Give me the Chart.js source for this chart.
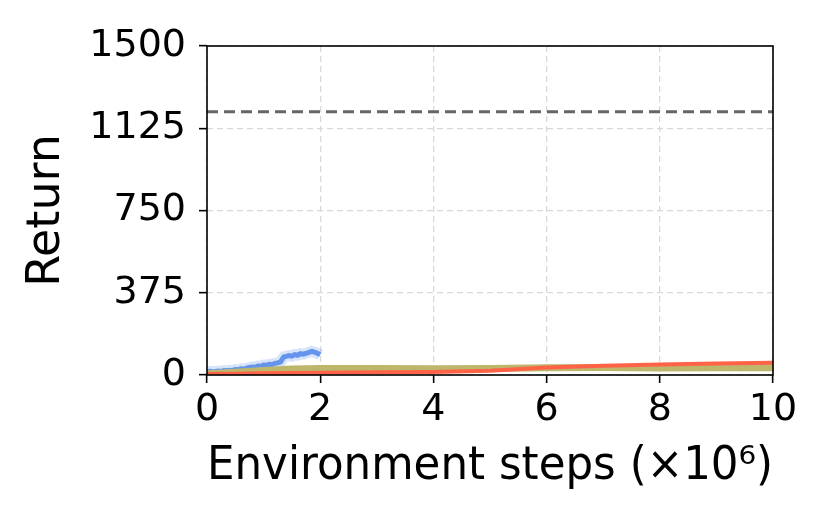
<!DOCTYPE html>
<html>
<head>
<meta charset="utf-8">
<script src="https://cdn.jsdelivr.net/npm/chart.js@4"></script>
<style>
  html, body { margin: 0; padding: 0; background: #fff; }
  #wrap { width: 830px; height: 519px; }
</style>
</head>
<body>
<div id="wrap"><canvas id="chart" width="830" height="519"></canvas></div>
<script>
// steps in millions
const blueSteps = [0, 0.05, 0.1, 0.15, 0.2, 0.25, 0.3, 0.35, 0.4, 0.45, 0.5, 0.55, 0.6, 0.65, 0.7, 0.75, 0.8, 0.85, 0.9, 0.95,
    1.0, 1.05, 1.1, 1.15, 1.2, 1.25, 1.3, 1.33, 1.36, 1.4, 1.45, 1.5, 1.55, 1.6, 1.65, 1.7, 1.75, 1.8, 1.85, 1.9, 1.95, 2.0];
const blueReturn = [14, 17, 15, 16, 18, 16, 20, 19, 22, 21, 25, 24, 28, 27, 31, 34, 36, 35, 41, 40,
    45, 44, 49, 48, 53, 55, 60, 72, 83, 85, 89, 86, 93, 90, 97, 95, 99, 103, 108, 104, 99, 92];

const olSteps = [0, 0.5, 1.0, 1.5, 2, 3, 4, 5, 6, 7, 8, 9, 10];
const oliveReturn = [6, 13, 21, 27, 30, 30, 29, 30, 33, 34, 32, 33, 33];
const redReturn = [4, 6, 8, 9, 10, 12, 14, 19, 34, 42, 48, 52, 56];

const targetReturn = 1200;
const xTicks = [0, 2, 4, 6, 8, 10];
const yTicks = [0, 375, 750, 1125, 1500];

const toPts = (xs, ys) => xs.map((x, i) => ({ x: x, y: ys[i] }));

const framePlugin = {
    id: 'frame',
    afterDraw(chart) {
        const a = chart.chartArea;
        const ctx = chart.ctx;
        ctx.save();
        ctx.strokeStyle = '#000';
        ctx.lineWidth = 1.6;
        ctx.strokeRect(a.left, a.top, a.right - a.left, a.bottom - a.top);
        ctx.restore();
    }
};

const tickFont = { family: 'DejaVu Sans', size: 38 };
const labelFont = { family: 'DejaVu Sans', size: 46 };

const gridOpts = {
    color: '#d9d9d9',
    lineWidth: 1.3,
    tickColor: '#000',
    tickLength: 8,
    tickWidth: 1.6
};

new Chart(document.getElementById('chart'), {
    type: 'line',
    data: {
        datasets: [
            {
                data: [{ x: 0, y: targetReturn }, { x: 10, y: targetReturn }],
                borderColor: '#666666',
                borderWidth: 3,
                borderDash: [11, 6],
                pointRadius: 0
            },
            {
                data: toPts(olSteps, redReturn),
                borderColor: '#ff6347',
                borderWidth: 4,
                pointRadius: 0
            },
            {
                data: toPts(olSteps, oliveReturn),
                borderColor: '#bdb76b',
                borderWidth: 7,
                pointRadius: 0
            },
            {
                data: toPts(blueSteps, blueReturn),
                borderColor: 'rgba(100,149,237,0.25)',
                borderWidth: 11,
                pointRadius: 0
            },
            {
                data: toPts(blueSteps, blueReturn),
                borderColor: '#6495ed',
                borderWidth: 5,
                pointRadius: 0
            }
        ]
    },
    options: {
        responsive: false,
        animation: false,
        layout: { padding: { left: 0, right: 57, top: 46, bottom: 0 } },
        plugins: { legend: { display: false }, tooltip: { enabled: false } },
        scales: {
            x: {
                type: 'linear',
                min: 0,
                max: 10,
                afterBuildTicks: (s) => { s.ticks = xTicks.map(v => ({ value: v })); },
                afterFit: (s) => { s.height = 144; },
                grid: gridOpts,
                border: { display: false, dash: [6, 4] },
                ticks: { color: '#000', font: tickFont, padding: 4, maxRotation: 0, callback: v => String(v) },
                title: { display: true, text: 'Environment steps (×10⁶)', color: '#000', font: labelFont, padding: { top: 0, bottom: 24 } }
            },
            y: {
                min: 0,
                max: 1500,
                afterBuildTicks: (s) => { s.ticks = yTicks.map(v => ({ value: v })); },
                afterFit: (s) => { s.width = 207; },
                grid: gridOpts,
                border: { display: false, dash: [6, 4] },
                ticks: { color: '#000', font: tickFont, padding: 13, callback: v => String(v) },
                title: { display: true, text: 'Return', color: '#000', font: labelFont, padding: { top: 19, bottom: 0 } }
            }
        }
    },
    plugins: [framePlugin]
});
</script>
</body>
</html>
